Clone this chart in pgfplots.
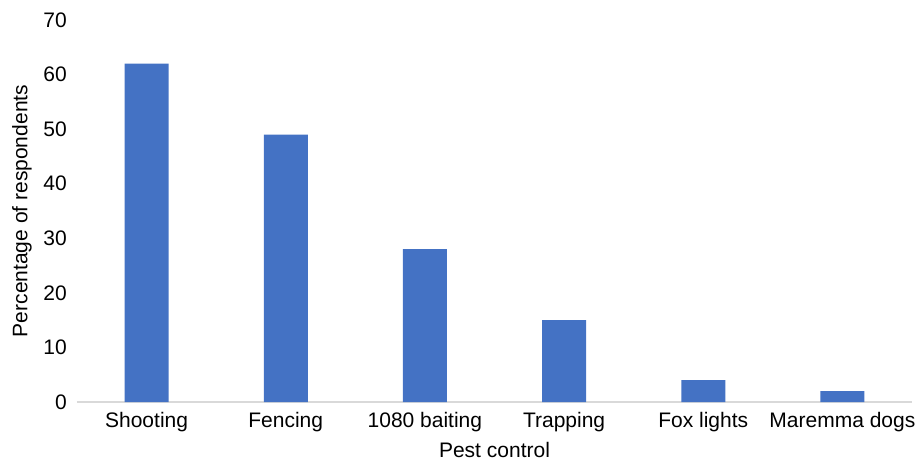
\documentclass[border=0pt]{standalone}
\usepackage{pgfplots}
\pgfplotsset{compat=1.18}
\usepackage{fontspec}
\setmainfont{Liberation Sans}
\definecolor{barblue}{HTML}{4472C4}
\definecolor{axisgray}{HTML}{D9D9D9}
\begin{document}
\begin{tikzpicture}
\begin{axis}[
  scale only axis,
  width=835pt, height=382pt,
  xmin=-0.5, xmax=5.5,
  ymin=0, ymax=70,
  ytick={0,10,...,70},
  xtick={0,1,2,3,4,5},
  xticklabels={Shooting,Fencing,1080 baiting,Trapping,Fox lights,Maremma dogs},
  axis x line*=bottom,
  axis y line*=left,
  y axis line style={draw=none},
  x axis line style={draw=axisgray, line width=1.5pt},
  tick style={draw=none},
  font=\fontsize{21}{25}\selectfont,
  /pgf/number format/assume math mode=true,
  yticklabel style={inner sep=0pt, xshift=-10pt},
  xticklabel style={anchor=base, inner sep=0pt, yshift=-25.5pt},
  xlabel={Pest control},
  ylabel={Percentage of respondents},
  xlabel style={at={(axis description cs:0.5,0)}, anchor=base, inner sep=0pt, yshift=-55.3pt},
  ylabel style={at={(axis description cs:-0.0593,0.5)}, anchor=base, inner sep=0pt},
  clip=false,
]
\addplot[ybar, bar width=44pt, fill=barblue, draw=none] coordinates {
  (0,62) (1,49) (2,28) (3,15) (4,4) (5,2)
};
\coordinate (sw) at (rel axis cs:0,0);
\end{axis}
\pgfresetboundingbox
\path (sw) ++(-77pt,-59pt) rectangle ++(917pt,461pt);
\end{tikzpicture}
\end{document}
